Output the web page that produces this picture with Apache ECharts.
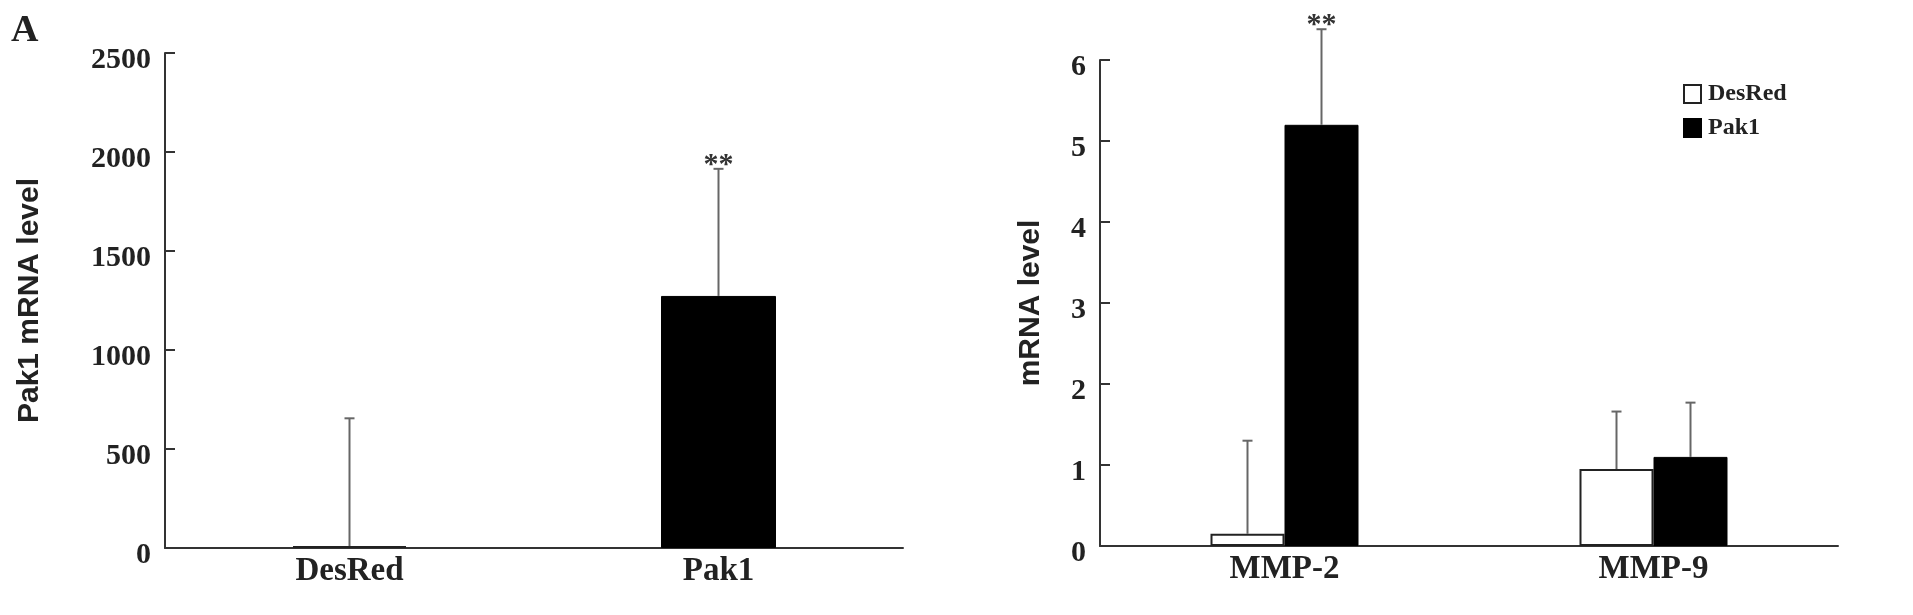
<!DOCTYPE html>
<html>
<head>
<meta charset="utf-8">
<script src="https://cdn.jsdelivr.net/npm/echarts@6/dist/echarts.min.js"></script>
<style>
  html, body { margin: 0; padding: 0; background: #fff; }
  #main { width: 1913px; height: 615px; }
</style>
</head>
<body>
<div id="main"></div>
<script>
// left panel: Pak1 mRNA level
const leftCategories = ['DesRed', 'Pak1'];
const leftMeans = [10, 1273];
const leftErrors = [645, 642];
const leftMarks = ['', '**'];

// right panel: MMP-2 / MMP-9 mRNA level
const rightCategories = ['MMP-2', 'MMP-9'];
const desRedMeans = [0.15, 0.95];
const desRedErrors = [1.15, 0.71];
const pak1Means = [5.2, 1.1];
const pak1Errors = [1.18, 0.67];
const pak1Marks = ['**', ''];

const leftTicks = { min: 0, max: 2500, interval: 500 };
const rightTicks = { min: 0, max: 6, interval: 1 };

const serif = 'Liberation Serif';
const sans = 'Liberation Sans';
const axisColor = '#333';
const errColor = '#666';
const leftBarW = 115;
const rightBarW = 74;

const whiteBar = { color: '#fff', borderColor: '#222', borderWidth: 2 };
const blackBar = { color: '#000', borderColor: '#000', borderWidth: 1 };
const leftStyles = [whiteBar, blackBar];

// error bars (upper only) + significance marks
function errorSeries(axisIdx, means, errors, marks, shift, barW) {
    return {
        type: 'custom',
        xAxisIndex: axisIdx,
        yAxisIndex: axisIdx,
        clip: false,
        silent: true,
        z: 5,
        data: means.map((m, i) => [i, m, errors[i]]),
        renderItem: function (params, api) {
            const cat = api.value(0);
            const mean = api.value(1);
            const base = api.coord([cat, mean]);
            const tip = api.coord([cat, mean + api.value(2)]);
            const x = base[0] + shift * barW / 2;
            const children = [{
                type: 'line',
                shape: { x1: x, y1: base[1], x2: x, y2: tip[1] },
                style: { stroke: errColor, lineWidth: 2 }
            }, {
                type: 'line',
                shape: { x1: x - 5, y1: tip[1], x2: x + 5, y2: tip[1] },
                style: { stroke: errColor, lineWidth: 2 }
            }];
            const mark = marks[params.dataIndex];
            if (mark) {
                children.push({
                    type: 'text',
                    x: x,
                    y: tip[1] - 4,
                    style: {
                        text: mark,
                        fill: '#333',
                        font: 'bold 30px "' + serif + '"',
                        align: 'center',
                        verticalAlign: 'middle'
                    }
                });
            }
            return { type: 'group', children: children };
        }
    };
}

function valueAxis(gridIdx, ticks, name, nameGap) {
    return {
        type: 'value',
        gridIndex: gridIdx,
        min: ticks.min,
        max: ticks.max,
        interval: ticks.interval,
        name: name,
        nameLocation: 'middle',
        nameGap: nameGap,
        nameRotate: 90,
        nameTextStyle: { fontFamily: sans, fontWeight: 'bold', fontSize: 30, color: '#222' },
        axisLine: { show: true, lineStyle: { color: axisColor, width: 2 } },
        axisTick: { show: true, inside: true, length: 10, lineStyle: { color: axisColor, width: 2 } },
        splitLine: { show: false },
        axisLabel: {
            fontFamily: serif, fontWeight: 'bold', fontSize: 30, color: '#222',
            margin: 14, verticalAlign: 'top', lineHeight: 14,
            formatter: v => String(v)
        }
    };
}

function categoryAxis(gridIdx, cats) {
    return {
        type: 'category',
        gridIndex: gridIdx,
        data: cats,
        axisLine: { show: true, lineStyle: { color: axisColor, width: 2 } },
        axisTick: { show: false },
        axisLabel: { fontFamily: serif, fontWeight: 'bold', fontSize: 33, color: '#222', margin: 7 }
    };
}

const chart = echarts.init(document.getElementById('main'), null, { renderer: 'canvas' });

chart.setOption({
    backgroundColor: '#fff',
    animation: false,
    title: {
        text: 'A', left: 11, top: 12, padding: 0,
        textStyle: { fontFamily: serif, fontWeight: 'bold', fontSize: 38, color: '#222' }
    },
    legend: {
        data: ['DesRed', 'Pak1'],
        orient: 'vertical',
        left: 1683,
        top: 82,
        padding: 0,
        itemWidth: 17,
        itemHeight: 18,
        itemGap: 10,
        icon: 'rect',
        textStyle: { fontFamily: serif, fontWeight: 'bold', fontSize: 24, color: '#222', padding: [0, 0, 0, 2] }
    },
    grid: [
        { left: 165, right: 1010, top: 53, bottom: 67 },
        { left: 1100, right: 75, top: 60, bottom: 69 }
    ],
    xAxis: [categoryAxis(0, leftCategories), categoryAxis(1, rightCategories)],
    yAxis: [
        valueAxis(0, leftTicks, 'Pak1 mRNA level', 120),
        valueAxis(1, rightTicks, 'mRNA level', 54)
    ],
    series: [
        {
            name: 'Pak1 mRNA level',
            type: 'bar',
            xAxisIndex: 0,
            yAxisIndex: 0,
            barWidth: leftBarW,
            data: leftMeans.map((v, i) => ({ value: v, itemStyle: leftStyles[i] }))
        },
        errorSeries(0, leftMeans, leftErrors, leftMarks, 0, leftBarW),
        {
            name: 'DesRed',
            type: 'bar',
            xAxisIndex: 1,
            yAxisIndex: 1,
            barWidth: rightBarW,
            barGap: 0,
            itemStyle: whiteBar,
            data: desRedMeans
        },
        {
            name: 'Pak1',
            type: 'bar',
            xAxisIndex: 1,
            yAxisIndex: 1,
            barWidth: rightBarW,
            barGap: 0,
            itemStyle: blackBar,
            data: pak1Means
        },
        errorSeries(1, desRedMeans, desRedErrors, ['', ''], -1, rightBarW),
        errorSeries(1, pak1Means, pak1Errors, pak1Marks, 1, rightBarW)
    ]
});
</script>
</body>
</html>
